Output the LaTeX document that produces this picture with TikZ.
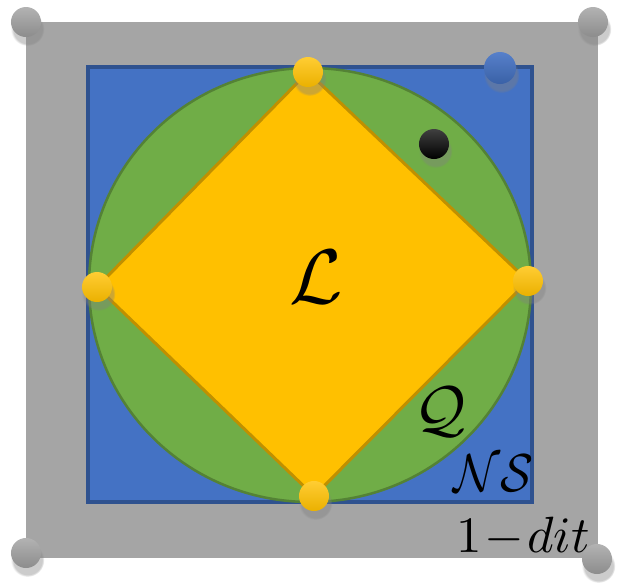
\documentclass[tikz,border=0pt]{standalone}
\usepackage{amsmath,amssymb}
\usetikzlibrary{shadows,fadings,positioning}
\definecolor{regiongray}{HTML}{A5A5A5}
\definecolor{nsblue}{HTML}{4472C4}
\definecolor{nsborder}{HTML}{2F528F}
\definecolor{qgreen}{HTML}{70AD47}
\definecolor{qborder}{HTML}{548235}
\definecolor{lyellow}{HTML}{FFC000}
\definecolor{lborder}{HTML}{C09000}

\begin{document}
\begin{tikzpicture}[x=0.01cm, y=-0.01cm,
    dot/.style={circle, inner sep=0pt, minimum size=0.3cm,
                circular drop shadow={shadow xshift=0.4pt, shadow yshift=-1.8pt, shadow scale=1.12, opacity=0.4}},
    lab/.style={inner sep=0pt, text=black}]
\useasboundingbox (0,0) rectangle (623,587);
% nested regions
\fill[regiongray] (26,22) rectangle (598,558);
\filldraw[fill=nsblue, draw=nsborder, line width=0.35mm] (88,67) rectangle (532,502);
\filldraw[fill=qgreen, draw=qborder, line width=0.25mm] (310,285) ellipse [x radius=221, y radius=217];
\coordinate (vt) at (308,72);
\coordinate (vr) at (528,281);
\coordinate (vb) at (314,496);
\coordinate (vl) at (97,287);
\filldraw[fill=lyellow, draw=lborder, line width=0.3mm, line join=round] (vt) -- (vr) -- (vb) -- (vl) -- cycle;
% corner points
\foreach \n/\xpos/\ypos in {g1/26/22, g2/593/22, g3/26/553, g4/597/559} {
    \node[dot, top color=regiongray!85!white, bottom color=regiongray!85!black] (\n) at (\xpos,\ypos) {};
}
\foreach \n in {vt,vr,vb,vl} {
    \node[dot, top color=lyellow!80!white, bottom color=lyellow!92!black] (d\n) at (\n) {};
}
\node[dot, minimum size=0.32cm, top color=nsblue!90!white, bottom color=nsblue!85!black] (pblue) at (500,68) {};
\node[dot, top color=black!75, bottom color=black] (pblack) at (434,144) {};
% labels
\node[lab, scale=2.2] (labL) at (316,277) {$\mathcal{L}$};
\node[lab, scale=1.8] (labQ) at (440,412) {$\mathcal{Q}$};
\node[lab, scale=1.38, yscale=1.1] (labNS) at (494,473) {$\mathcal{NS}$};
\node[lab, scale=1.45] (labD) at (523,537) {$1\!-\!dit$};
\end{tikzpicture}
\end{document}
